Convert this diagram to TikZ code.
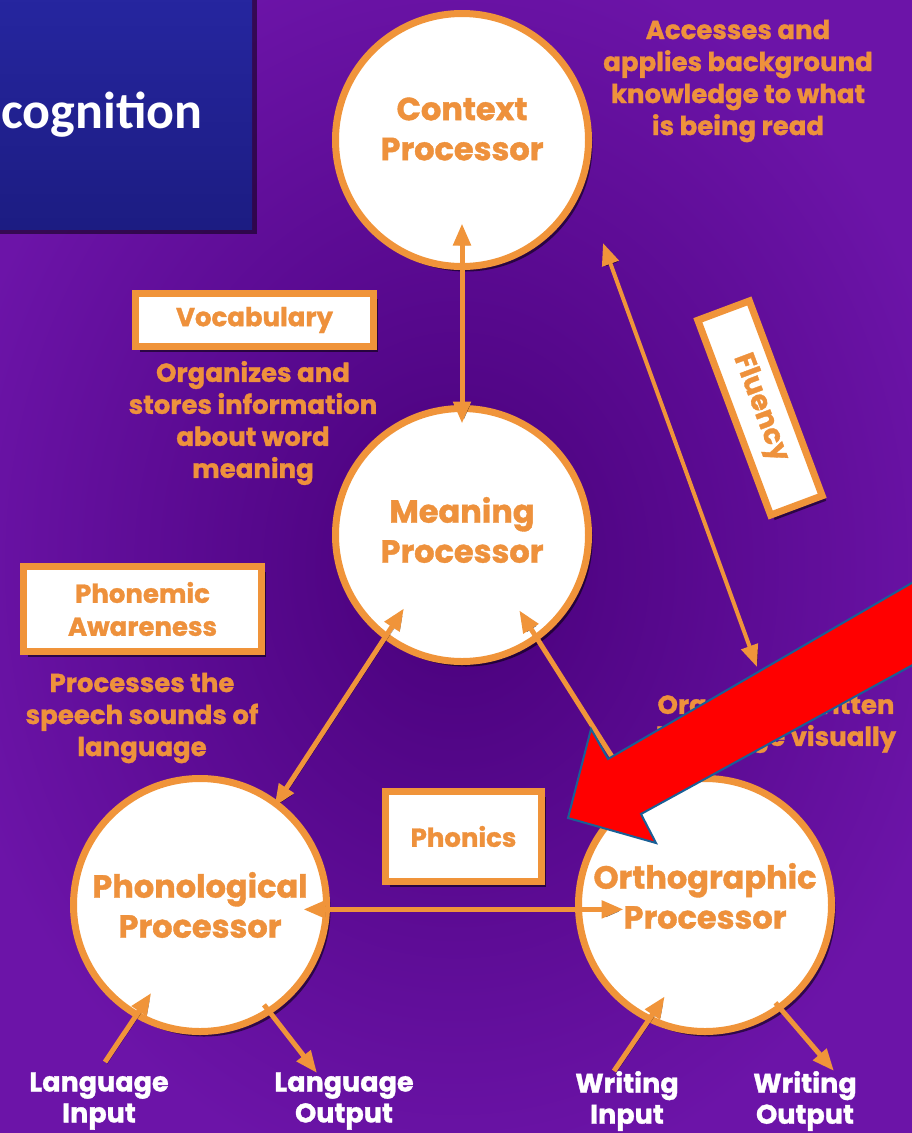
\documentclass[tikz,border=0pt]{standalone}
\usepackage{fontspec}
\newfontfamily\pop{Poppins}[BoldFeatures={FakeBold=1.2}]
\newfontfamily\carl{Carlito}
\usetikzlibrary{arrows.meta,shadows,calc}
\definecolor{bgin}{RGB}{72,0,122}
\definecolor{bgout}{RGB}{108,20,168}
\definecolor{org}{RGB}{240,148,58}
\definecolor{otext}{RGB}{238,145,60}
\definecolor{blueA}{RGB}{38,38,160}
\definecolor{blueB}{RGB}{28,28,130}
\definecolor{redborder}{RGB}{25,95,150}
\begin{document}
\begin{tikzpicture}[x=1pt,y=-1pt,
  shad/.style={drop shadow={shadow xshift=4pt,shadow yshift=-5pt,opacity=0.55,fill=black}},
  proc/.style={circle,draw=org,line width=7pt,fill=white,minimum size=253pt,inner sep=0pt,outer sep=0pt,shad},
  proctext/.style={text=otext,font=\pop\bfseries\fontsize{32}{40}\selectfont,align=center,inner sep=0pt},
  skillbox/.style={rectangle,draw=org,line width=7pt,fill=white,inner sep=0pt,outer sep=0pt,shad,text=otext,font=\pop\bfseries\fontsize{26}{33}\selectfont,align=center},
  desc/.style={text=otext,font=\pop\bfseries\fontsize{26}{32}\selectfont,align=center,inner sep=0pt},
  io/.style={text=white,font=\pop\bfseries\fontsize{27}{31}\selectfont,align=center,inner sep=0pt},
  conn/.style={draw=org,line width=5pt,preaction={draw=black,opacity=0.45,transform canvas={shift={(2pt,-2pt)}}}},
  one/.style={conn,-{Triangle[length=22pt,width=17pt]}},
  two/.style={conn,{Triangle[length=22pt,width=17pt]}-{Triangle[length=22pt,width=17pt]}}
]
\useasboundingbox (0,0) rectangle (912,1133);
\clip (0,0) rectangle (912,1133);
% background
\shade[inner color=bgin, outer color=bgout] (-60,-60) rectangle (972,1193);
% title box
\fill[black,opacity=0.5] (-10,-10) rectangle (257,234);
\shade[top color=blueA,bottom color=blueB] (-10,-10) rectangle (252,229);
\node[anchor=base west,text=white,font=\carl\bfseries\fontsize{52}{60}\selectfont,inner sep=0pt] (title) at (1,128) {cognition};
% processors
\node[proc] (ctx) at (462,140) {};
\node[proc] (mean) at (462,535) {};
\node[proc] (phon) at (200,905) {};
\node[proc] (orth) at (705,905) {};
\node[proctext] (ctxt) at ([yshift=11pt]ctx.center) {Context\\Processor};
\node[proctext] (meant) at ([yshift=5pt]mean.center) {Meaning\\Processor};
\node[proctext] (phont) at (phon.center) {Phonological\\Processor};
\node[proctext] (ortht) at ([yshift=9pt]orth.center) {Orthographic\\Processor};
% skill boxes
\node[skillbox,minimum width=238pt,minimum height=53pt] (voc) at (254.5,320) {Vocabulary};
\node[skillbox,minimum width=238pt,minimum height=85pt] (pa) at (142.5,609) {Phonemic\\Awareness};
\node[skillbox,minimum width=156pt,minimum height=90pt] (phonics) at (463.5,836.5) {Phonics};
\node[skillbox,minimum width=208pt,minimum height=55pt,rotate=-69.5,font=\pop\bfseries\fontsize{28}{33}\selectfont] (flu) at (760,408) {Fluency};
% descriptions
\node[desc] (dctx) at (738,81) {Accesses and\\applies background\\knowledge to what\\is being read};
\node[desc] (dmean) at (253,423) {Organizes and\\stores information\\about word\\meaning};
\node[desc] (dphon) at (142,718) {Processes the\\speech sounds of\\language};
\node[desc] (dorth) at (776,723) {Organizes written\\language visually};
% io labels
\node[io] (linl) at (99,1101) {Language\\Input};
\node[io] (loutl) at (344,1101) {Language\\Output};
\node[io] (winl) at (627,1101) {Writing\\Input};
\node[io] (woutl) at (805,1101) {Writing\\Output};
% free ends
\coordinate (fltop) at (603,243);
\coordinate (flbot) at (757,667);
\coordinate (lin) at (105,1062);
\coordinate (lout) at (317,1073);
\coordinate (win) at (614,1071);
\coordinate (wout) at (834,1071);
% connectors
\draw[two,shorten <=-43pt,shorten >=-15pt] (ctx.south) -- (mean.north);
\draw[two,line width=4pt] (fltop) -- (flbot);
\draw[two,shorten <=-33pt,shorten >=-3pt] (mean.233.4) -- (phon.53.7);
\draw[two,shorten <=-32pt,shorten >=-3pt] (mean.306.7) -- (orth.122.2);
\draw[two,shorten <=-23pt,shorten >=-45pt] (phon.-2.2) -- (orth.182.2);
\draw[one,shorten >=-26pt] (lin) -- (phon.240.9);
\draw[one,shorten <=-8pt] (phon.303.2) -- (lout);
\draw[one,shorten >=-27pt] (win) -- (orth.244.3);
\draw[one,shorten <=-6pt] (orth.306.3) -- (wout);
% red pointer arrow
\draw[fill=red,draw=redborder,line width=2pt,line join=miter] (568,818) -- (591,729) -- (608,759) -- (960,555) -- (960,639) -- (641,814) -- (656,843) -- cycle;
\end{tikzpicture}
\end{document}
